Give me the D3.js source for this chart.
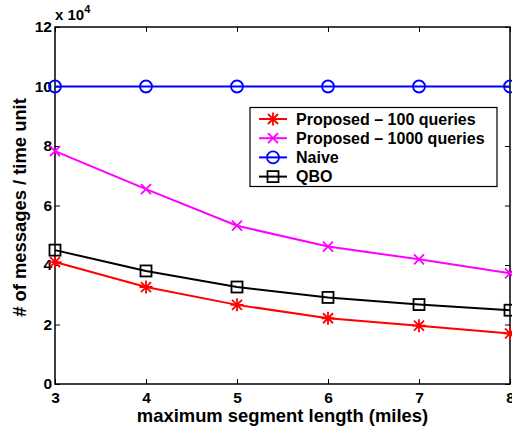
<!DOCTYPE html>
<html><head><meta charset="utf-8">
<script src="https://cdn.jsdelivr.net/npm/d3@7"></script>
<style>body{margin:0;background:#fff}svg{display:block;font-family:"Liberation Sans",Arial,sans-serif;font-weight:bold}</style>
</head><body><svg id="c" width="512" height="429"></svg>
<script>
const xValues = [3,4,5,6,7,8];
const proposed100 = [4.10,3.26,2.66,2.21,1.96,1.70];
const proposed1000 = [7.83,6.55,5.32,4.62,4.19,3.72];
const naive = [10,10,10,10,10,10];
const qbo = [4.50,3.80,3.26,2.91,2.67,2.48];
const xTicks = [3,4,5,6,7,8];
const yTicks = [0,2,4,6,8,10,12];
const seriesNames = ["Proposed \u2013 100 queries","Proposed \u2013 1000 queries","Naive","QBO"];

const series = [
  {name:seriesNames[0], values:proposed100, color:"#ff0000", marker:"star"},
  {name:seriesNames[1], values:proposed1000, color:"#ff00ff", marker:"x"},
  {name:seriesNames[2], values:naive, color:"#0000ff", marker:"circle"},
  {name:seriesNames[3], values:qbo, color:"#000000", marker:"square"}
];

const svg = d3.select("#c");
const L=55, R=510, T=27, B=384;
const x = d3.scaleLinear().domain([3,8]).range([L,R]);
const y = d3.scaleLinear().domain([0,12]).range([B,T]);

function drawMarker(g, type, cx, cy, color){
  if(type==="circle"){
    g.append("circle").attr("cx",cx).attr("cy",cy).attr("r",6).attr("fill","none").attr("stroke",color).attr("stroke-width",1.8);
  } else if(type==="square"){
    g.append("rect").attr("x",cx-5.5).attr("y",cy-5.5).attr("width",11).attr("height",11).attr("fill","none").attr("stroke",color).attr("stroke-width",1.8);
  } else if(type==="x"){
    g.append("path").attr("d",`M${cx-5},${cy-5}L${cx+5},${cy+5}M${cx-5},${cy+5}L${cx+5},${cy-5}`).attr("stroke",color).attr("stroke-width",1.8);
  } else if(type==="star"){
    g.append("path").attr("d",`M${cx-5},${cy-5}L${cx+5},${cy+5}M${cx-5},${cy+5}L${cx+5},${cy-5}M${cx},${cy-6.5}L${cx},${cy+6.5}M${cx-6.5},${cy}L${cx+6.5},${cy}`).attr("stroke",color).attr("stroke-width",1.8);
  }
}

// axes box
svg.append("rect").attr("x",L).attr("y",T).attr("width",R-L).attr("height",B-T).attr("fill","none").attr("stroke","#000").attr("stroke-width",1.5);

const ax = svg.append("g").attr("transform",`translate(0,${B})`).call(d3.axisBottom(x).tickValues(xTicks).tickSize(-5).tickPadding(8).tickFormat(d3.format("d")));
const axT = svg.append("g").attr("transform",`translate(0,${T})`).call(d3.axisTop(x).tickValues(xTicks).tickSize(-5).tickFormat(""));
const ay = svg.append("g").attr("transform",`translate(${L},0)`).call(d3.axisLeft(y).tickValues(yTicks).tickSize(-5).tickPadding(3).tickFormat(d3.format("d")));
const ayR = svg.append("g").attr("transform",`translate(${R},0)`).call(d3.axisRight(y).tickValues(yTicks).tickSize(-5).tickFormat(""));
[ax,axT,ay,ayR].forEach(a=>{a.select(".domain").remove();a.selectAll("line").attr("stroke","#000");});
[ax,ay].forEach(a=>a.selectAll("text").attr("font-size",15.5).attr("font-weight","bold").attr("fill","#000").attr("font-family","Liberation Sans, Arial, sans-serif"));

// lines
const line = d3.line().x((d,i)=>x(xValues[i])).y(d=>y(d));
series.forEach(s=>{
  svg.append("path").datum(s.values).attr("d",line).attr("fill","none").attr("stroke",s.color).attr("stroke-width",2);
  const g=svg.append("g");
  s.values.forEach((v,i)=>drawMarker(g,s.marker,x(xValues[i]),y(v),s.color));
});

// exponent label
const ex = svg.append("text").attr("x",55).attr("y",20).attr("font-size",15).attr("fill","#000");
ex.append("tspan").text("x 10");
ex.append("tspan").attr("dy",-7.5).attr("font-size",11).text("4");

// axis titles
svg.append("text").attr("x",(L+R)/2).attr("y",421.5).attr("text-anchor","middle").attr("font-size",18.4).text("maximum segment length (miles)");
svg.append("text").attr("transform",`translate(25.5,${(T+B)/2 + 2}) rotate(-90)`).attr("text-anchor","middle").attr("font-size",18.4).text("# of messages / time unit");

// legend
const lg = svg.append("g");
lg.append("rect").attr("x",250).attr("y",107.5).attr("width",247).attr("height",79).attr("fill","#fff").attr("stroke","#000").attr("stroke-width",1.2);
series.forEach((s,i)=>{
  const yy = 119 + i*19.2;
  lg.append("line").attr("x1",259).attr("x2",287).attr("y1",yy).attr("y2",yy).attr("stroke",s.color).attr("stroke-width",2);
  drawMarker(lg,s.marker,273,yy,s.color);
  lg.append("text").attr("x",296).attr("y",yy+5.8).attr("font-size",16).attr("fill","#000").text(s.name);
});
</script></body></html>
